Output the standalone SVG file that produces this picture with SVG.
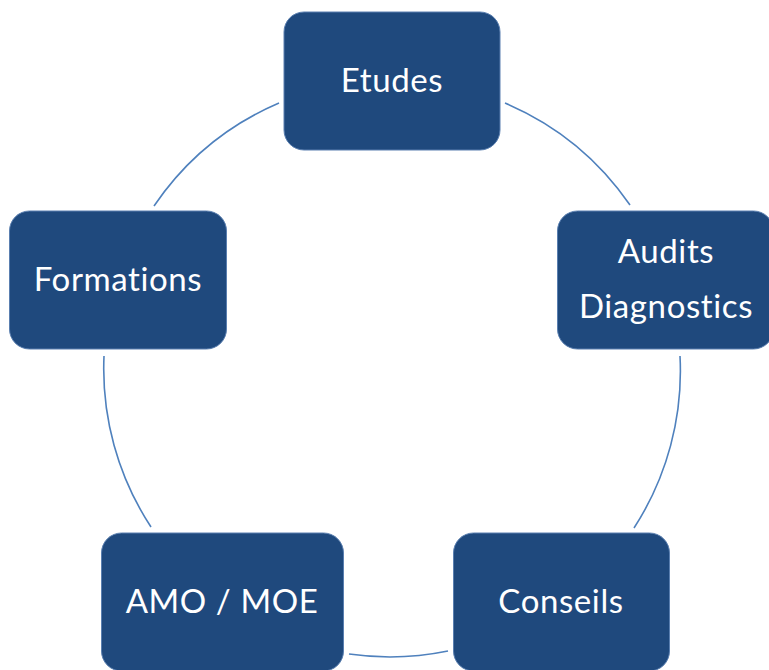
<svg xmlns="http://www.w3.org/2000/svg" width="769" height="670" viewBox="0 0 769 670">
<style>
.box{fill:#1F497D;stroke:#5A7FB0;stroke-width:1}
.lbl{fill:#FFFFFF;font-family:Lato,"Liberation Sans",sans-serif;font-size:33px;letter-spacing:0.6px;text-anchor:middle;font-variant-ligatures:none}
.arc{fill:none;stroke:#4F81BD;stroke-width:1.6}
</style>
<rect width="769" height="670" fill="#FFFFFF"/>
<g id="connectors">
<path class="arc" d="M 505 103 A 288.5 288.5 0 0 1 630 205"/>
<path class="arc" d="M 680 356 A 288.5 288.5 0 0 1 634 528"/>
<path class="arc" d="M 448 651 A 288.5 288.5 0 0 1 349 654"/>
<path class="arc" d="M 151 527 A 288.5 288.5 0 0 1 104 356"/>
<path class="arc" d="M 154 206 A 288.5 288.5 0 0 1 279 103"/>
</g>
<g id="etudes">
<rect class="box" x="284" y="12" width="216" height="138" rx="20"/>
<text class="lbl" x="392" y="92">Etudes</text>
</g>
<g id="audits">
<rect class="box" x="557.5" y="211" width="216" height="138" rx="20"/>
<text class="lbl" x="666" y="263">Audits</text>
<text class="lbl" x="666" y="318">Diagnostics</text>
</g>
<g id="conseils">
<rect class="box" x="453.5" y="533" width="216" height="138" rx="20"/>
<text class="lbl" x="561" y="613">Conseils</text>
</g>
<g id="amo">
<rect class="box" x="101.5" y="533" width="242" height="138" rx="20"/>
<text class="lbl" x="222" y="613">AMO / MOE</text>
</g>
<g id="formations">
<rect class="box" x="9.5" y="211" width="217" height="138" rx="20"/>
<text class="lbl" x="118" y="291">Formations</text>
</g>
</svg>
